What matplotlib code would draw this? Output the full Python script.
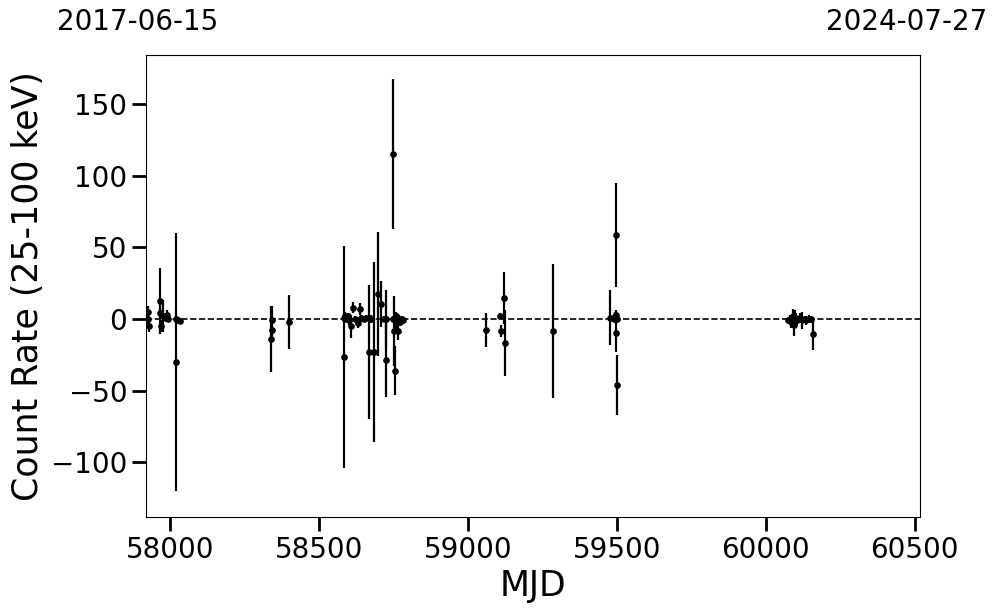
import numpy as np
import matplotlib
matplotlib.use('Agg')
import matplotlib.pyplot as plt

# Khoảng thời gian quan sát (MJD) và nhãn ngày tương ứng
mjd_start = 57919
mjd_end = 60518
date_start = '2017-06-15'
date_end = '2024-07-27'

# Dữ liệu: MJD, count rate, sai số
mjd = [
    57926, 57927, 57928, 57966, 57967, 57968, 57977, 57987, 57990, 57993,
    58019, 58020, 58028, 58032,
    58338, 58341, 58342, 58400,
    58584, 58585, 58588, 58592, 58597, 58602, 58609, 58615, 58622, 58627,
    58632, 58638, 58642, 58652, 58657, 58668, 58674, 58684, 58699, 58709,
    58717, 58724, 58726, 58749, 58750, 58752, 58754, 58757, 58760, 58762,
    58764, 58767, 58772, 58777, 58782,
    59061, 59108, 59111, 59121, 59123, 59286,
    59478, 59491, 59494, 59496, 59498, 59497, 59499, 59501,
    60076, 60081, 60086, 60091, 60094, 60098, 60101, 60106, 60111, 60116,
    60121, 60131, 60136, 60146, 60151, 60158,
]
rate = [
    5, 0, -5, 12.5, 4, -5, 2, 1, 3, 0,
    -30, 0, -1, -1.5,
    -14, -8, -1, -2,
    -26.5, 1, 2, 0, 2, -1, -5, 8, 0, -1,
    -3, 7, 1, 0, 1, -23, 0, -23, 17.5, 10.5,
    0, 0, -28.6, 115, 0, -8.5, -36, 2, -3, 1,
    -8.5, 0, -2, 0, -1,
    -7.7, 2, -8.5, 14.7, -16.7, -8.5,
    1, 0, 2, 3, 58.6, -10, -46, 0,
    -1, 0, -2, 2, -4, 0, 1, -1, 0, 1,
    -1, 0, -1, 0, 0, -10.5,
]
err = [
    4, 4, 4, 23, 4, 4, 11, 3, 3, 2,
    90, 2, 1, 1.5,
    23, 5, 10, 19,
    77.5, 3, 3, 2, 2, 3, 8, 3.5, 2, 2,
    3, 4, 2, 2, 2, 47, 3, 63, 43, 16,
    2, 20, 25.5, 52.5, 2, 24.5, 17, 3, 4, 3,
    6, 3, 3, 2, 2,
    11.7, 2, 4, 18, 23, 46.5,
    19, 2, 3, 3, 36, 13, 21, 2,
    2, 3, 4, 5, 8, 6, 3, 3, 2, 3,
    6, 2, 3, 3, 2, 11,
]

fig = plt.figure(figsize=(9.97, 6.13), dpi=100)
ax = fig.add_axes([0.1464, 0.1566, 0.7764, 0.7537])

ax.errorbar(mjd, rate, yerr=err, fmt='o', color='k', ms=3.8,
            elinewidth=1.6, capsize=0)
ax.axhline(0, ls='--', color='k', lw=1.2)

ax.set_xlim(mjd_start, mjd_end)
ax.set_ylim(-138, 184)
ax.set_xticks([58000, 58500, 59000, 59500, 60000, 60500])
ax.set_yticks([-100, -50, 0, 50, 100, 150])

ax.tick_params(axis='both', which='major', labelsize=20, length=10, width=2)
ax.set_xlabel('MJD', fontsize=25)
ax.set_ylabel('Count Rate (25-100 keV)', fontsize=25)

# Nhãn ngày ở hai đầu phía trên
fig.text(57 / 997, 1 - 22 / 613, date_start, fontsize=20, ha='left', va='center')
fig.text(987 / 997, 1 - 22 / 613, date_end, fontsize=20, ha='right', va='center')

plt.savefig('out.png', dpi=100)
